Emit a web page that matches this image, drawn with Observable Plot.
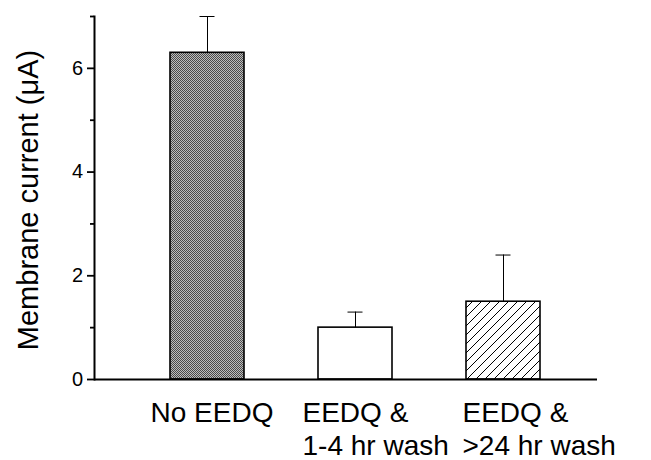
<!DOCTYPE html>
<html>
<head>
<meta charset="utf-8">
<script src="https://cdn.jsdelivr.net/npm/d3@7"></script>
<script src="https://cdn.jsdelivr.net/npm/@observablehq/plot@0.6"></script>
<style>
  html, body { margin: 0; padding: 0; background: #fff; }
  svg { display: block; }
</style>
</head>
<body>
<div id="chart"></div>
<script>
// Data
const categories = ["No EEDQ", "EEDQ & 1-4 hr wash", "EEDQ & >24 hr wash"];
const labelLines = [["No EEDQ"], ["EEDQ &", "1-4 hr wash"], ["EEDQ &", ">24 hr wash"]];
const means = [6.3, 1.0, 1.5];
const errors = [0.7, 0.3, 0.9];
const fills = ["url(#stipple)", "#ffffff", "url(#hatch)"];
const majorTicks = [0, 2, 4, 6];
const minorTicks = [1, 3, 5, 7];
const yLabel = "Membrane current (μA)";

const table = categories.map((c, i) => ({
  cat: c, label: labelLines[i].join("\n"), value: means[i], err: errors[i], top: means[i] + errors[i], fill: fills[i]
}));

const font = "'Liberation Sans', Arial, Helvetica, sans-serif";
const labelShift = [-57, -53, -41];

const svg = Plot.plot({
  width: 651,
  height: 460,
  marginLeft: 94,
  marginRight: 54,
  marginTop: 16,
  marginBottom: 81,
  style: {fontFamily: font, background: "#fff", color: "#000", overflow: "visible"},
  x: {domain: categories, range: [132.4, 577.1], paddingInner: 0.5, paddingOuter: 0.25, axis: null},
  y: {domain: [0, 7], axis: null},
  color: {type: "identity"},
  marks: [
    Plot.barY(table, {x: "cat", y: "value", fill: "fill", stroke: "#000", strokeWidth: 1.6}),
    Plot.ruleX(table, {x: "cat", y1: "value", y2: "top", stroke: "#000", strokeWidth: 1}),
    Plot.tickY(table, {x: "cat", y: "top", stroke: "#000", strokeWidth: 1, insetLeft: 29.5, insetRight: 29.5}),
    Plot.ruleY([0], {stroke: "#000", strokeWidth: 2}),
    Plot.frame({anchor: "left", stroke: "#000", strokeWidth: 2}),
    Plot.axisY({ticks: majorTicks, tickSize: 7, tickPadding: 4.5, fontSize: 20, label: null, strokeWidth: 1.8, tickFormat: d => String(d)}),
    Plot.axisY({ticks: minorTicks, tickSize: 4, text: null, label: null, strokeWidth: 1.8}),
    ...table.map((row, i) => Plot.text([row], {
      x: "cat", text: "label", frameAnchor: "bottom", lineAnchor: "top", textAnchor: "start",
      dy: 19, dx: labelShift[i], fontSize: 28, lineHeight: 1.18, fill: "#000"
    })),
    Plot.text([yLabel], {
      text: d => d, frameAnchor: "left", rotate: -90, lineAnchor: "bottom", textAnchor: "middle",
      dx: -57, dy: 2, fontSize: 29, fill: "#000"
    })
  ]
});

// Pattern fills
const defs = d3.select(svg).insert("defs", ":first-child");
const st = defs.append("pattern").attr("id", "stipple").attr("patternUnits", "userSpaceOnUse")
  .attr("width", 2).attr("height", 2);
st.append("rect").attr("width", 2).attr("height", 2).attr("fill", "#bdbdbd");
st.append("rect").attr("x", 0).attr("y", 0).attr("width", 1).attr("height", 1).attr("fill", "#4a4a4a");
st.append("rect").attr("x", 1).attr("y", 1).attr("width", 1).attr("height", 1).attr("fill", "#4a4a4a");
const ht = defs.append("pattern").attr("id", "hatch").attr("patternUnits", "userSpaceOnUse")
  .attr("width", 9).attr("height", 9);
ht.append("rect").attr("width", 9).attr("height", 9).attr("fill", "#fff");
ht.append("path").attr("d", "M0,9L9,0M-1,1L1,-1M8,10L10,8").attr("stroke", "#000").attr("stroke-width", 1);

document.getElementById("chart").appendChild(svg);
</script>
</body>
</html>
